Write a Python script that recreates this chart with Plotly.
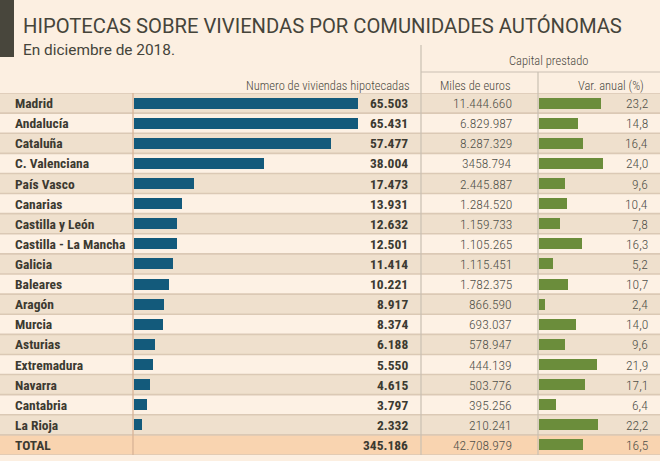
import plotly.graph_objects as go

W, H = 660, 461

regions = ["Madrid", "Andalucía", "Cataluña", "C. Valenciana", "País Vasco", "Canarias",
           "Castilla y León", "Castilla - La Mancha", "Galicia", "Baleares", "Aragón",
           "Murcia", "Asturias", "Extremadura", "Navarra", "Cantabria", "La Rioja", "TOTAL"]
viviendas = [65503, 65431, 57477, 38004, 17473, 13931, 12632, 12501, 11414, 10221,
             8917, 8374, 6188, 5550, 4615, 3797, 2332, 345186]
miles_euros = ["11.444.660", "6.829.987", "8.287.329", "3458.794", "2.445.887", "1.284.520",
               "1.159.733", "1.105.265", "1.115.451", "1.782.375", "866.590", "693.037",
               "578.947", "444.139", "503.776", "395.256", "210.241", "42.708.979"]
var_anual = [23.2, 14.8, 16.4, 24.0, 9.6, 10.4, 7.8, 16.3, 5.2, 10.7, 2.4, 14.0,
             9.6, 21.9, 17.1, 6.4, 22.2, 16.5]

title = "HIPOTECAS SOBRE VIVIENDAS POR COMUNIDADES AUTÓNOMAS"
subtitle = "En diciembre de 2018."

BG = "#fcefe1"
ROW_DARK = "#efe0cd"
ROW_LIGHT = "#fdf1e4"
ROW_TOTAL = "#f9d4b0"
BLUE = "#135a7b"
GREEN = "#6b8d3b"
TXT = "#3c3a31"
TXT_LIGHT = "#505049"
NARROW = "Roboto Condensed, Liberation Sans Narrow, DejaVu Sans Condensed, sans-serif"

n = len(regions)
idx = list(range(n))


def px_x(p):
    return p / W


def px_y(p):
    return 1 - p / H


def fmt_int(v):
    return f"{v:,}".replace(",", ".")


def fmt_dec(v):
    return f"{v:.1f}".replace(".", ",")


fig = go.Figure()

fig.add_trace(go.Bar(
    x=viviendas[:-1], y=idx[:-1], orientation="h", width=0.55,
    marker=dict(color=BLUE, line=dict(width=0)), xaxis="x", yaxis="y",
    hoverinfo="skip", showlegend=False))
fig.add_trace(go.Bar(
    x=var_anual, y=idx, orientation="h", width=0.55,
    marker=dict(color=GREEN, line=dict(width=0)), xaxis="x2", yaxis="y",
    hoverinfo="skip", showlegend=False))

shapes = []
shapes.append(dict(type="rect", xref="paper", yref="paper", x0=0, x1=px_x(14),
                   y0=px_y(57), y1=1, fillcolor="#48463c", line=dict(width=0), layer="below"))
for i in idx:
    if i == n - 1:
        col = ROW_TOTAL
    elif i % 2 == 0:
        col = ROW_DARK
    else:
        col = ROW_LIGHT
    shapes.append(dict(type="rect", xref="paper", yref="y", x0=0, x1=1,
                       y0=i - 0.5, y1=i + 0.5, fillcolor=col, line=dict(width=0), layer="below"))
for i in range(n + 1):
    shapes.append(dict(type="line", xref="paper", yref="y", x0=0, x1=1,
                       y0=i - 0.5, y1=i - 0.5, line=dict(color="#dbc9b5", width=1.6), layer="below"))
shapes.append(dict(type="line", xref="paper", yref="y", x0=px_x(133), x1=px_x(133),
                   y0=-0.5, y1=n - 0.5, line=dict(color="#d8b397", width=1.3)))
shapes.append(dict(type="line", xref="paper", yref="paper", x0=px_x(421), x1=px_x(421),
                   y0=px_y(45), y1=px_y(455), line=dict(color="#c9c0b3", width=1.2)))
shapes.append(dict(type="line", xref="paper", yref="paper", x0=px_x(538), x1=px_x(538),
                   y0=px_y(72), y1=px_y(455), line=dict(color="#c9c0b3", width=1.2)))
shapes.append(dict(type="line", xref="paper", yref="paper", x0=px_x(421), x1=1,
                   y0=px_y(72), y1=px_y(72), line=dict(color="#c9c0b3", width=1.2)))

ann = []
ann.append(dict(text=title, xref="paper", yref="paper", x=px_x(21), y=px_y(25.5),
                xanchor="left", yanchor="middle", showarrow=False,
                font=dict(family="Roboto, Open Sans, sans-serif", size=20.2, color="#45443a")))
ann.append(dict(text=subtitle, xref="paper", yref="paper", x=px_x(21), y=px_y(50),
                xanchor="left", yanchor="middle", showarrow=False,
                font=dict(family="Roboto, Open Sans, sans-serif", size=15.4, color="#45443a")))

hdr_font = dict(family=NARROW, size=12.5, color="#4a4840", weight=300)
ann.append(dict(text="Numero de viviendas hipotecadas", xref="paper", yref="paper",
                x=px_x(412), y=px_y(85), xanchor="right", yanchor="middle",
                showarrow=False, font=hdr_font))
ann.append(dict(text="Capital prestado", xref="paper", yref="paper",
                x=px_x(548), y=px_y(60), xanchor="center", yanchor="middle",
                showarrow=False, font=hdr_font))
ann.append(dict(text="Miles de euros", xref="paper", yref="paper",
                x=px_x(475), y=px_y(85), xanchor="center", yanchor="middle",
                showarrow=False, font=hdr_font))
ann.append(dict(text="Var. anual (%)", xref="paper", yref="paper",
                x=px_x(611), y=px_y(85), xanchor="center", yanchor="middle",
                showarrow=False, font=hdr_font))

for i in idx:
    ann.append(dict(text=f"<b>{regions[i]}</b>", xref="paper", yref="y", x=px_x(13), y=i,
                    xanchor="left", yanchor="middle", showarrow=False,
                    font=dict(family=NARROW, size=13.5, color=TXT)))
    ann.append(dict(text=f"<b>{fmt_int(viviendas[i])}</b>", xref="paper", yref="y", x=px_x(410), y=i,
                    xanchor="right", yanchor="middle", showarrow=False,
                    font=dict(family=NARROW, size=13.5, color=TXT)))
    ann.append(dict(text=miles_euros[i], xref="paper", yref="y", x=px_x(514), y=i,
                    xanchor="right", yanchor="middle", showarrow=False,
                    font=dict(family=NARROW, size=13.5, color=TXT_LIGHT, weight=300)))
    ann.append(dict(text=fmt_dec(var_anual[i]), xref="paper", yref="y", x=px_x(650), y=i,
                    xanchor="right", yanchor="middle", showarrow=False,
                    font=dict(family=NARROW, size=13.5, color=TXT_LIGHT, weight=300)))

blue_max = (421 - 134) / 224 * 65503
green_max = (660 - 539) / 2.665

fig.update_layout(
    width=W, height=H, margin=dict(l=0, r=0, t=0, b=0),
    paper_bgcolor=BG, plot_bgcolor="rgba(0,0,0,0)",
    shapes=shapes, annotations=ann, bargap=0,
    xaxis=dict(domain=[px_x(134), px_x(421)], range=[0, blue_max], visible=False,
               fixedrange=True, anchor="y"),
    xaxis2=dict(domain=[px_x(539), 1], range=[0, green_max], visible=False,
                fixedrange=True, anchor="y"),
    yaxis=dict(domain=[px_y(455), px_y(93)], range=[n - 0.5, -0.5], visible=False,
               fixedrange=True),
)

fig.write_html("out.html", config={"displayModeBar": False},
               post_script="document.body.style.margin='0px';document.body.style.overflow='hidden';")
